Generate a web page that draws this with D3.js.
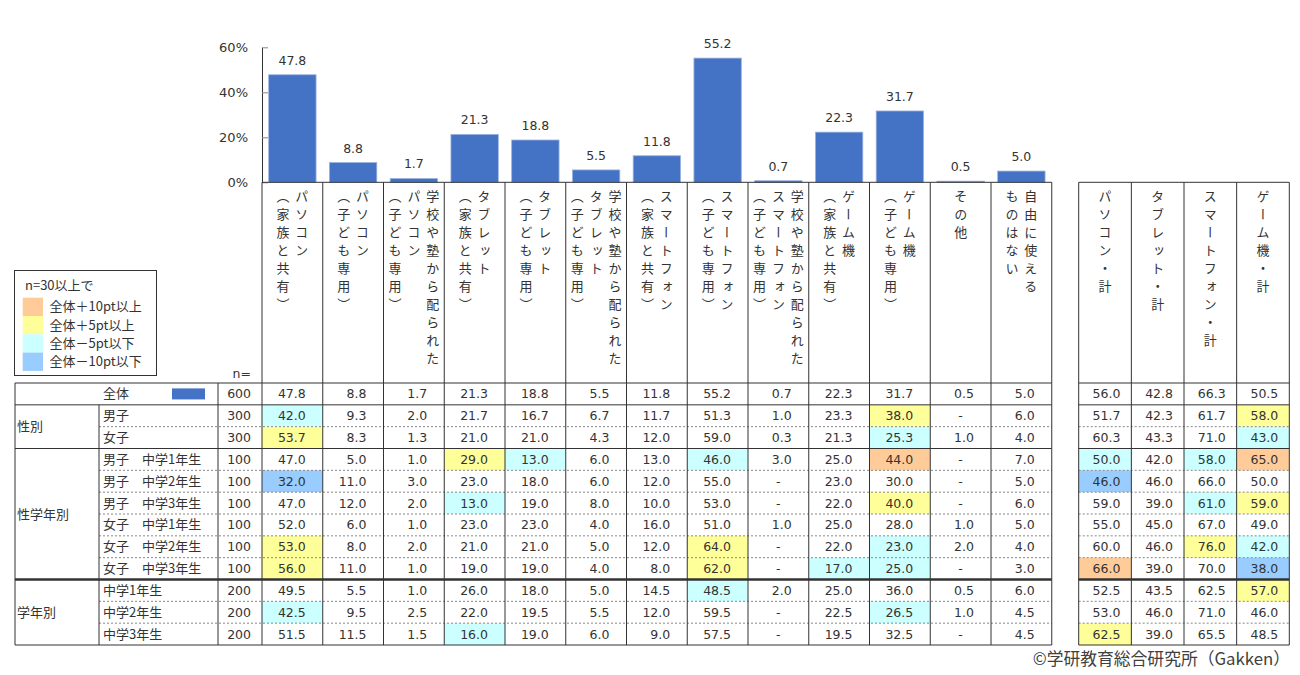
<!DOCTYPE html>
<html>
<head>
<meta charset="utf-8">
<script src="https://cdn.jsdelivr.net/npm/d3@7"></script>
<style>
  body { margin: 0; background: #fff; }
  svg { display: block; }
  .jp { font-family: "Noto Sans CJK JP", "Noto Sans", sans-serif; }
  .num { font-family: "DejaVu Sans", Verdana, sans-serif; }
</style>
</head>
<body>
<svg id="chart" width="1300" height="675"></svg>
<script>
// header lines per column, read right-to-left (vertical text)
const columns = [
  ['パソコン', '（家族と共有）'],
  ['パソコン', '（子ども専用）'],
  ['学校や塾から配られた', 'パソコン', '（子ども専用）'],
  ['タブレット', '（家族と共有）'],
  ['タブレット', '（子ども専用）'],
  ['学校や塾から配られた', 'タブレット', '（子ども専用）'],
  ['スマートフォン', '（家族と共有）'],
  ['スマートフォン', '（子ども専用）'],
  ['学校や塾から配られた', 'スマートフォン', '（子ども専用）'],
  ['ゲーム機', '（家族と共有）'],
  ['ゲーム機', '（子ども専用）'],
  ['その他'],
  ['自由に使える', 'ものはない']
];
const totalColumns = ['パソコン・計', 'タブレット・計', 'スマートフォン・計', 'ゲーム機・計'];

const rowLabels = ['全体', '男子', '女子',
  '男子　中学1年生', '男子　中学2年生', '男子　中学3年生',
  '女子　中学1年生', '女子　中学2年生', '女子　中学3年生',
  '中学1年生', '中学2年生', '中学3年生'];
const rowN = [600, 300, 300, 100, 100, 100, 100, 100, 100, 200, 200, 200];
const groupNames = ['性別', '性学年別', '学年別'];
const groupFirst = [1, 3, 9];
const groupLast = [2, 8, 11];

// null = "-"
const values = [
  [47.8, 8.8, 1.7, 21.3, 18.8, 5.5, 11.8, 55.2, 0.7, 22.3, 31.7, 0.5, 5.0],
  [42.0, 9.3, 2.0, 21.7, 16.7, 6.7, 11.7, 51.3, 1.0, 23.3, 38.0, null, 6.0],
  [53.7, 8.3, 1.3, 21.0, 21.0, 4.3, 12.0, 59.0, 0.3, 21.3, 25.3, 1.0, 4.0],
  [47.0, 5.0, 1.0, 29.0, 13.0, 6.0, 13.0, 46.0, 3.0, 25.0, 44.0, null, 7.0],
  [32.0, 11.0, 3.0, 23.0, 18.0, 6.0, 12.0, 55.0, null, 23.0, 30.0, null, 5.0],
  [47.0, 12.0, 2.0, 13.0, 19.0, 8.0, 10.0, 53.0, null, 22.0, 40.0, null, 6.0],
  [52.0, 6.0, 1.0, 23.0, 23.0, 4.0, 16.0, 51.0, 1.0, 25.0, 28.0, 1.0, 5.0],
  [53.0, 8.0, 2.0, 21.0, 21.0, 5.0, 12.0, 64.0, null, 22.0, 23.0, 2.0, 4.0],
  [56.0, 11.0, 1.0, 19.0, 19.0, 4.0, 8.0, 62.0, null, 17.0, 25.0, null, 3.0],
  [49.5, 5.5, 1.0, 26.0, 18.0, 5.0, 14.5, 48.5, 2.0, 25.0, 36.0, 0.5, 6.0],
  [42.5, 9.5, 2.5, 22.0, 19.5, 5.5, 12.0, 59.5, null, 22.5, 26.5, 1.0, 4.5],
  [51.5, 11.5, 1.5, 16.0, 19.0, 6.0, 9.0, 57.5, null, 19.5, 32.5, null, 4.5]
];
const totals = [
  [56.0, 42.8, 66.3, 50.5],
  [51.7, 42.3, 61.7, 58.0],
  [60.3, 43.3, 71.0, 43.0],
  [50.0, 42.0, 58.0, 65.0],
  [46.0, 46.0, 66.0, 50.0],
  [59.0, 39.0, 61.0, 59.0],
  [55.0, 45.0, 67.0, 49.0],
  [60.0, 46.0, 76.0, 42.0],
  [66.0, 39.0, 70.0, 38.0],
  [52.5, 43.5, 62.5, 57.0],
  [53.0, 46.0, 71.0, 46.0],
  [62.5, 39.0, 65.5, 48.5]
];

const yTicks = [0, 20, 40, 60];
const legendTitle = 'n=30以上で';
const legendItems = ['全体＋10pt以上', '全体＋5pt以上', '全体－5pt以下', '全体－10pt以下'];
const legendColors = ['#FFCC99', '#FFFF99', '#CCFFFF', '#99CCFF'];
const source = '©学研教育総合研究所（Gakken）';

const ink = '#333';
const barColor = '#4472C4';
const svg = d3.select('#chart');

// scales
const x = d3.scaleBand().domain(d3.range(columns.length)).range([262, 1051.75]);
const bx = d3.scaleBand().domain(d3.range(columns.length)).range([262, 1051.75])
  .paddingInner(0.22).paddingOuter(0.11);
const xr = d3.scaleBand().domain(d3.range(totalColumns.length)).range([1078.7, 1289.3]);
const y = d3.scaleLinear().domain([0, 60]).range([182.3, 47.3]);
const ry = d3.scaleBand().domain(d3.range(rowLabels.length)).range([383, 645]);

// highlight: difference from 全体 (n>=30)
function fillFor(v, base) {
  if (v == null) return null;
  const d = Math.round((v - base) * 10) / 10;
  if (d >= 10) return legendColors[0];
  if (d >= 5) return legendColors[1];
  if (d <= -10) return legendColors[3];
  if (d <= -5) return legendColors[2];
  return null;
}

// ---- bar chart ----
const axis = svg.append('g')
  .attr('transform', 'translate(262,0)')
  .call(d3.axisLeft(y).tickValues(yTicks).tickSizeInner(-6).tickSizeOuter(0)
    .tickPadding(14).tickFormat(d => d + '%'));
axis.select('.domain').attr('stroke', ink);
axis.selectAll('.tick line').attr('stroke', '#888');
axis.selectAll('.tick text').attr('class', 'num').attr('fill', ink).attr('font-size', 13);

svg.append('g').selectAll('rect')
  .data(values[0])
  .join('rect')
  .attr('x', (d, i) => bx(i))
  .attr('width', bx.bandwidth())
  .attr('y', d => y(d))
  .attr('height', d => y(0) - y(d))
  .attr('fill', barColor)
  .attr('stroke', '#9db3e0')
  .attr('stroke-width', 0.8);

svg.append('g').selectAll('text')
  .data(values[0])
  .join('text')
  .attr('class', 'num')
  .attr('x', (d, i) => bx(i) + bx.bandwidth() / 2)
  .attr('y', d => y(d) - 10)
  .attr('text-anchor', 'middle')
  .attr('font-size', 12.5)
  .attr('fill', ink)
  .text(d => d.toFixed(1));

// ---- headers (vertical text) ----
const head = svg.append('g').attr('class', 'jp').attr('fill', ink).attr('font-size', 13);
columns.forEach((lines, i) => {
  const cx = x(i) + x.bandwidth() / 2;
  lines.forEach((line, k) => {
    head.append('text')
      .attr('x', cx + ((lines.length - 1) / 2 - k) * 18.8)
      .attr('y', 190)
      .style('writing-mode', 'vertical-rl')
      .style('letter-spacing', '5px')
      .text(line);
  });
});
totalColumns.forEach((line, i) => {
  head.append('text')
    .attr('x', xr(i) + xr.bandwidth() / 2)
    .attr('y', 190)
    .style('writing-mode', 'vertical-rl')
    .style('letter-spacing', '5px')
    .text(line);
});
head.append('text')
  .attr('class', 'num')
  .attr('x', 251).attr('y', 378)
  .attr('text-anchor', 'end')
  .attr('font-size', 12.5)
  .text('n=');

// ---- cell fills ----
const cells = svg.append('g');
values.forEach((row, r) => {
  row.forEach((v, c) => {
    const f = r === 0 ? null : fillFor(v, values[0][c]);
    if (f) cells.append('rect')
      .attr('x', x(c)).attr('y', ry(r))
      .attr('width', x.bandwidth()).attr('height', ry.bandwidth())
      .attr('fill', f);
  });
});
totals.forEach((row, r) => {
  row.forEach((v, c) => {
    const f = r === 0 ? null : fillFor(v, totals[0][c]);
    if (f) cells.append('rect')
      .attr('x', xr(c)).attr('y', ry(r))
      .attr('width', xr.bandwidth()).attr('height', ry.bandwidth())
      .attr('fill', f);
  });
});

// ---- grid lines ----
const grid = svg.append('g').attr('stroke', ink).attr('fill', 'none');
const rightEdge = 1051.75;
const xEdges = d3.range(columns.length).map(i => x(i)).concat([rightEdge]);
const xrEdges = d3.range(totalColumns.length).map(i => xr(i)).concat([1289.3]);
const bottom = ry.range()[1];

function hline(x1, x2, yy, w, dash, color) {
  grid.append('line').attr('x1', x1).attr('x2', x2).attr('y1', yy).attr('y2', yy)
    .attr('stroke-width', w).attr('stroke', color || ink)
    .attr('stroke-dasharray', dash || null);
}
function vline(xx, y1, y2) {
  grid.append('line').attr('x1', xx).attr('x2', xx).attr('y1', y1).attr('y2', y2)
    .attr('stroke-width', 1);
}

// axis base line and header top of right block
hline(262, rightEdge, y(0), 1);
hline(xrEdges[0], xrEdges[4], y(0), 1);

// row boundaries
d3.range(rowLabels.length + 1).forEach(r => {
  const yy = r < rowLabels.length ? ry(r) : bottom;
  const solid = r === 0 || r === 1 || groupFirst.includes(r) || r === rowLabels.length;
  const thick = r === 9;
  if (solid) {
    hline(15, rightEdge, yy, thick ? 2.5 : 1);
    hline(xrEdges[0], xrEdges[4], yy, thick ? 2.5 : 1);
  } else {
    hline(99, rightEdge, yy, 1, '2,2', '#888');
    hline(xrEdges[0], xrEdges[4], yy, 1, '2,2', '#888');
  }
});

// vertical boundaries
vline(15, ry(0), bottom);
vline(99, ry(1), bottom);
vline(218, ry(0), bottom);
xEdges.forEach(xx => vline(xx, y(0), bottom));
xrEdges.forEach(xx => vline(xx, y(0), bottom));

// ---- table text ----
const body = svg.append('g').attr('fill', ink);
const mid = r => ry(r) + ry.bandwidth() / 2;

groupNames.forEach((g, i) => {
  body.append('text').attr('class', 'jp').attr('font-size', 13)
    .attr('x', 17)
    .attr('y', (ry(groupFirst[i]) + ry(groupLast[i]) + ry.bandwidth()) / 2)
    .attr('dy', '0.35em')
    .text(g);
});
rowLabels.forEach((lab, r) => {
  body.append('text').attr('class', 'jp').attr('font-size', 13)
    .attr('x', 103).attr('y', mid(r)).attr('dy', '0.35em')
    .text(lab);
});
body.append('rect')
  .attr('x', 172).attr('y', mid(0) - 5.5).attr('width', 33).attr('height', 11)
  .attr('fill', barColor);

rowN.forEach((n, r) => {
  body.append('text').attr('class', 'num').attr('font-size', 12.5)
    .attr('x', 251).attr('y', mid(r)).attr('dy', '0.36em')
    .attr('text-anchor', 'end')
    .text(n);
});
values.forEach((row, r) => {
  row.forEach((v, c) => {
    body.append('text').attr('class', 'num').attr('font-size', 12.5)
      .attr('x', v == null ? x(c) + x.bandwidth() / 2 : x(c) + x.bandwidth() - 17)
      .attr('y', mid(r)).attr('dy', '0.36em')
      .attr('text-anchor', v == null ? 'middle' : 'end')
      .text(v == null ? '-' : v.toFixed(1));
  });
});
totals.forEach((row, r) => {
  row.forEach((v, c) => {
    body.append('text').attr('class', 'num').attr('font-size', 12.5)
      .attr('x', xr(c) + xr.bandwidth() - 11)
      .attr('y', mid(r)).attr('dy', '0.36em')
      .attr('text-anchor', 'end')
      .text(v.toFixed(1));
  });
});

// ---- legend ----
const leg = svg.append('g').attr('class', 'jp').attr('font-size', 13).attr('fill', ink);
leg.append('rect')
  .attr('x', 14.5).attr('y', 270.5).attr('width', 142).attr('height', 105)
  .attr('fill', '#fff').attr('stroke', ink);
leg.append('text').attr('x', 25).attr('y', 285).attr('dy', '0.35em').text(legendTitle);
legendItems.forEach((t, i) => {
  const yy = 297.7 + i * 18.3;
  leg.append('rect').attr('x', 22.7).attr('y', yy).attr('width', 20.3).attr('height', 18.3)
    .attr('fill', legendColors[i]);
  leg.append('text').attr('x', 49.5).attr('y', yy + 9.2).attr('dy', '0.35em').text(t);
});

// ---- source ----
svg.append('text').attr('class', 'jp')
  .attr('x', 1290).attr('y', 665)
  .attr('text-anchor', 'end')
  .attr('font-size', 16.8)
  .attr('fill', '#404040')
  .text(source);
</script>
</body>
</html>
